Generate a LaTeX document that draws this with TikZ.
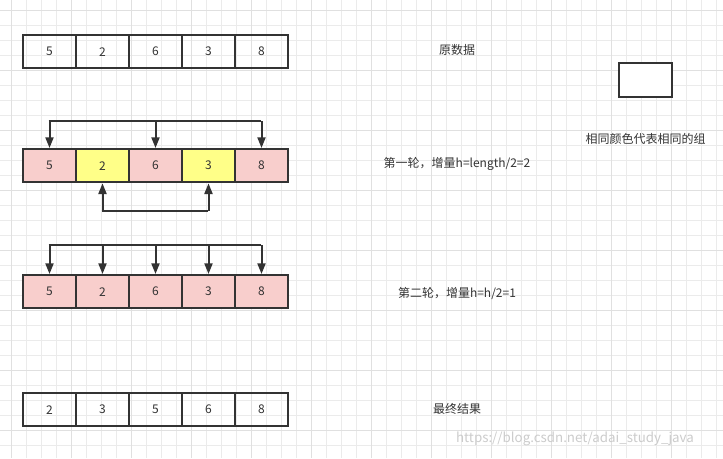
\documentclass[tikz,border=0pt]{standalone}
\usepackage{fontspec}
\setmainfont{Noto Sans CJK SC}
\usetikzlibrary{arrows.meta}
\definecolor{pk}{HTML}{F8CECC}
\definecolor{yl}{HTML}{FFFF88}
\definecolor{ln}{HTML}{333333}
\begin{document}
\begin{tikzpicture}[x=0.75pt,y=-0.75pt,
 cell/.style={draw=ln,line width=1.5pt,minimum width=39.75pt,minimum height=25pt,inner sep=0,font=\fontsize{9}{10}\selectfont,text=ln,anchor=north west},
 lbl/.style={font=\fontsize{9}{10}\selectfont,text=ln},
 arr/.style={draw=ln,line width=1.5pt,-{Triangle[length=8pt,width=6pt]}},
 lnk/.style={draw=ln,line width=1.5pt}]
\useasboundingbox (0,0) rectangle (723,458);
\fill[white] (0,0) rectangle (723,458);
\foreach \i in {0,...,48} {\draw[black!8,line width=0.4pt] (\i*15+11,0) -- (\i*15+11,458);}
\foreach \i in {0,...,30} {\draw[black!8,line width=0.4pt] (0,\i*15+10) -- (723,\i*15+10);}
\foreach \i in {0,...,12} {\draw[black!12,line width=0.5pt] (\i*60+11,0) -- (\i*60+11,458);}
\foreach \i in {0,...,8} {\draw[black!12,line width=0.5pt] (0,\i*60+10) -- (723,\i*60+10);}
% rows
\foreach \v [count=\k] in {5,2,6,3,8} \node[cell] (a\k) at (22+\k*53-53,34) {\v};
\foreach \v/\c [count=\k] in {5/pk,2/yl,6/pk,3/yl,8/pk} \node[cell,fill=\c] (b\k) at (22+\k*53-53,148) {\v};
\foreach \v [count=\k] in {5,2,6,3,8} \node[cell,fill=pk] (c\k) at (22+\k*53-53,274) {\v};
\foreach \v [count=\k] in {2,3,5,6,8} \node[cell] (d\k) at (22+\k*53-53,392) {\v};
% round 1 arrows
\coordinate (t1) at (48.5,121);
\coordinate (t5) at (260.5,121);
\draw[lnk] (t1) -- (t5);
\foreach \k in {1,3,5} \draw[arr] (b\k.center |- t1) -- (b\k.north);
\coordinate (u2) at (101.5,211);
\coordinate (u4) at (207.5,211);
\draw[lnk] (u2) -- (u4);
\foreach \k in {2,4} \draw[arr] (b\k.center |- u2) -- (b\k.south);
% round 2 arrows
\coordinate (s1) at (48.5,245);
\coordinate (s5) at (260.5,245);
\draw[lnk] (s1) -- (s5);
\foreach \k in {1,...,5} \draw[arr] (c\k.center |- s1) -- (c\k.north);
% legend
\node[draw=ln,line width=1pt,fill=white,minimum width=39.75pt,minimum height=25.5pt,inner sep=0] (leg) at (645.5,80) {};
\node[lbl] (legt) at (645.5,139) {相同颜色代表相同的组};
\node[lbl] (l1) at (457,50) {原数据};
\node[lbl] (l2) at (457,164) {第一轮，增量h=length/2=2};
\node[lbl] (l3) at (457,293) {第二轮，增量h=h/2=1};
\node[lbl] (l4) at (457,409) {最终结果};
\node[font=\fontsize{10}{11}\selectfont,text=black!20] (wm) at (575,439) {https://blog.csdn.net/adai\_study\_java};
\end{tikzpicture}
\end{document}
